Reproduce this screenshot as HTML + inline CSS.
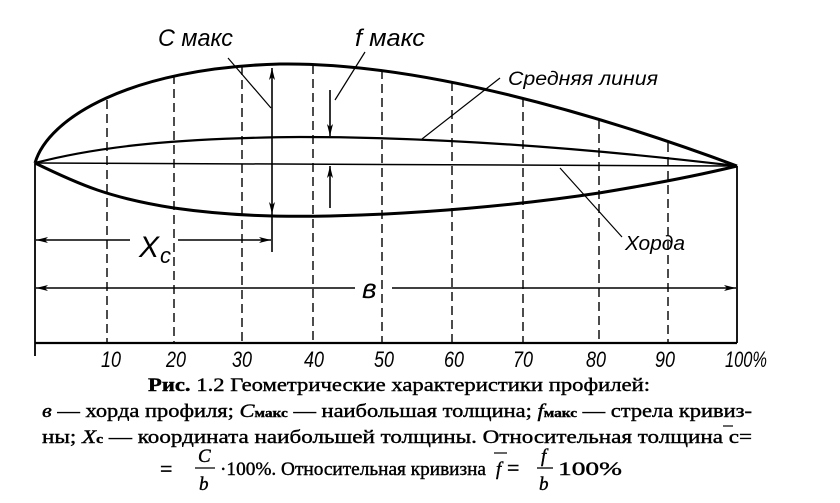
<!DOCTYPE html>
<html><head><meta charset="utf-8"><style>
html,body{margin:0;padding:0;background:#fff;}
svg{display:block;}
.it{font-family:"Liberation Sans",sans-serif;font-style:italic;}
.cap{font-family:"Liberation Serif",serif;font-size:19px;stroke:#000;stroke-width:0.4;}
</style></head><body>
<svg width="840" height="503" viewBox="0 0 840 503" xmlns="http://www.w3.org/2000/svg">
<defs>
<marker id="ar" viewBox="0 0 12 6" refX="12" refY="3" markerWidth="12" markerHeight="6" orient="auto" markerUnits="userSpaceOnUse">
<path d="M0,0 L12,3 L0,6 L3,3 Z" fill="#000"/></marker>
</defs>
<g stroke="#000" fill="none">
<g stroke-width="1.4" stroke-dasharray="9,5">
<line x1="107" y1="100" x2="107" y2="343"/>
<line x1="174" y1="75" x2="174" y2="343"/>
<line x1="242" y1="66" x2="242" y2="343"/>
<line x1="313" y1="65" x2="313" y2="343"/>
<line x1="382" y1="70" x2="382" y2="343"/>
<line x1="452" y1="82" x2="452" y2="343"/>
<line x1="523" y1="98" x2="523" y2="343"/>
<line x1="599" y1="120" x2="599" y2="343"/>
<line x1="668" y1="143" x2="668" y2="343"/>
</g>
<path stroke-width="3" d="M35,163 C48,118 130,68 280,64 C420,62 600,115 737,166"/>
<path stroke-width="3" d="M35,163 C80,185 110,198 174,208 C230,216 280,217 330,216 C420,214 520,205 599,193 C660,183 700,175 737,166"/>
<path stroke-width="2.2" d="M35,163 C100,146 180,138 300,137 C420,137 560,145 737,166"/>
<line stroke-width="1.5" x1="35" y1="163" x2="737" y2="166"/>
<line stroke-width="1.8" x1="35" y1="163" x2="35" y2="356"/>
<line stroke-width="1.8" x1="737" y1="166" x2="737" y2="343"/>
<line stroke-width="2.2" x1="35" y1="343" x2="737" y2="343"/>
<line stroke-width="1.6" x1="272" y1="108" x2="272" y2="68" marker-end="url(#ar)"/>
<line stroke-width="1.6" x1="272" y1="108" x2="272" y2="214" marker-end="url(#ar)"/>
<line stroke-width="1.6" x1="272" y1="214" x2="272" y2="252"/>
<line stroke-width="1.6" x1="330" y1="90" x2="330" y2="136" marker-end="url(#ar)"/>
<line stroke-width="1.6" x1="330" y1="208" x2="330" y2="166" marker-end="url(#ar)"/>
<line stroke-width="1.2" x1="228" y1="58" x2="271" y2="108"/>
<line stroke-width="1.2" x1="365" y1="52" x2="335" y2="100"/>
<line stroke-width="1.2" x1="500" y1="78" x2="422" y2="139"/>
<line stroke-width="1.2" x1="560" y1="168" x2="622" y2="237"/>
<line stroke-width="1.6" x1="130" y1="240" x2="36" y2="240" marker-end="url(#ar)"/>
<line stroke-width="1.6" x1="178" y1="240" x2="271" y2="240" marker-end="url(#ar)"/>
<line stroke-width="1.6" x1="355" y1="288" x2="36" y2="288" marker-end="url(#ar)"/>
<line stroke-width="1.6" x1="392" y1="288" x2="736" y2="288" marker-end="url(#ar)"/>
</g>
<g class="it" fill="#000">
<text x="158" y="46" font-size="24" textLength="75" lengthAdjust="spacingAndGlyphs">C макс</text>
<text x="355" y="46" font-size="24" textLength="70" lengthAdjust="spacingAndGlyphs">f макс</text>
<text x="508" y="85" font-size="19" textLength="150" lengthAdjust="spacingAndGlyphs">Средняя линия</text>
<text x="625" y="250" font-size="20" textLength="60" lengthAdjust="spacingAndGlyphs">Хорда</text>
<text x="139" y="257" font-size="30">X</text><text x="160" y="263" font-size="22">c</text>
<text x="362" y="298" font-size="28">в</text>
<g font-size="22">
<text x="101" y="367" textLength="20" lengthAdjust="spacingAndGlyphs">10</text><text x="166" y="367" textLength="20" lengthAdjust="spacingAndGlyphs">20</text><text x="232" y="367" textLength="20" lengthAdjust="spacingAndGlyphs">30</text>
<text x="304" y="367" textLength="20" lengthAdjust="spacingAndGlyphs">40</text><text x="374" y="367" textLength="20" lengthAdjust="spacingAndGlyphs">50</text><text x="444" y="367" textLength="20" lengthAdjust="spacingAndGlyphs">60</text>
<text x="513" y="367" textLength="20" lengthAdjust="spacingAndGlyphs">70</text><text x="586" y="367" textLength="20" lengthAdjust="spacingAndGlyphs">80</text><text x="655" y="367" textLength="20" lengthAdjust="spacingAndGlyphs">90</text>
<text x="725" y="367" textLength="42" lengthAdjust="spacingAndGlyphs">100%</text>
</g>
</g>
<g class="cap" fill="#000">
<text x="148" y="391" textLength="502" lengthAdjust="spacingAndGlyphs"><tspan font-weight="bold">Рис.</tspan> 1.2   Геометрические характеристики профилей:</text>
<text x="42" y="417" textLength="710" lengthAdjust="spacingAndGlyphs"><tspan font-style="italic">в</tspan> — хорда профиля; <tspan font-style="italic">C</tspan><tspan font-size="13" font-weight="bold">макс</tspan> — наибольшая толщина; <tspan font-style="italic">f</tspan><tspan font-size="13" font-weight="bold">макс</tspan> — стрела кривиз-</text>
<text x="42" y="443" textLength="710" lengthAdjust="spacingAndGlyphs">ны; <tspan font-style="italic">X</tspan><tspan font-size="13" font-weight="bold">с</tspan> — координата наибольшей толщины. Относительная толщина c=</text>
<line x1="723" y1="426" x2="733" y2="426" stroke="#000" stroke-width="1.2"/>
<text x="160" y="476" font-size="22">=</text>
<text x="198" y="462" font-style="italic">C</text>
<line x1="195" y1="468" x2="215" y2="468" stroke="#000" stroke-width="1.3"/>
<text x="199" y="490" font-style="italic">b</text>
<text x="220" y="475" textLength="266" lengthAdjust="spacingAndGlyphs">·100%. Относительная кривизна</text>
<text x="496" y="475" font-style="italic">f</text>
<line x1="494" y1="453" x2="507" y2="453" stroke="#000" stroke-width="1.2"/>
<text x="507" y="475" font-size="22">=</text>
<text x="541" y="462" font-style="italic">f</text>
<line x1="537" y1="468" x2="553" y2="468" stroke="#000" stroke-width="1.3"/>
<text x="539" y="490" font-style="italic">b</text>
<text x="558" y="475" textLength="64" lengthAdjust="spacingAndGlyphs">100%</text>
</g>
</svg>
</body></html>
